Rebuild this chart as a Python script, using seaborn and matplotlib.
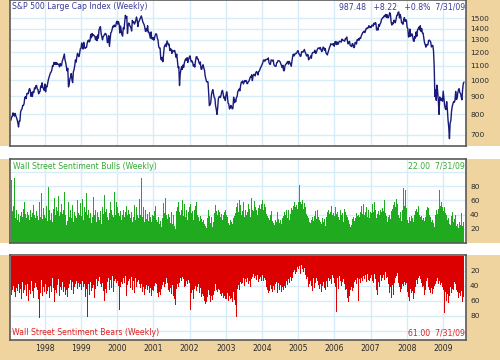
import numpy as np
import pandas as pd
import matplotlib
matplotlib.use("Agg")
import matplotlib.pyplot as plt
import seaborn as sns
from matplotlib.patches import Rectangle
from matplotlib.ticker import FixedLocator, FixedFormatter, NullLocator

# ---------------- data (weekly, Fridays, 1997-01-24 .. 2009-07-31) ----------------
spx_1997 = [770, 786, 789, 808, 801, 791, 805, 793, 784, 773, 757, 737, 766, 766, 812, 824, 829, 848, 848,
            858, 893, 898, 887, 916, 918, 915, 938, 947, 933, 900, 923, 899, 929, 923, 950, 945, 965, 966,
            944, 941, 915, 927, 928, 963, 955, 983, 954, 946, 936]
spx_1998 = [975, 927, 961, 957, 980, 1003, 1020, 1035, 1049, 1055, 1069, 1100, 1095, 1122, 1110, 1123, 1108,
            1121, 1109, 1108, 1110, 1091, 1114, 1098, 1100, 1133, 1146, 1165, 1186, 1140, 1121, 1089, 1063,
            1081, 957, 973, 1009, 1020, 1044, 1002, 984, 1056, 1070, 1099, 1141, 1125, 1163, 1192, 1176, 1166,
            1189, 1226]
spx_1999 = [1229, 1275, 1243, 1225, 1280, 1239, 1230, 1239, 1238, 1275, 1294, 1299, 1283, 1293, 1348, 1319,
            1356, 1335, 1345, 1337, 1330, 1302, 1327, 1294, 1343, 1315, 1391, 1403, 1418, 1357, 1329, 1301,
            1327, 1336, 1348, 1357, 1351, 1336, 1277, 1282, 1336, 1247, 1301, 1362, 1370, 1397, 1422, 1416,
            1433, 1417, 1421, 1458, 1469]
spx_2000 = [1441, 1465, 1441, 1360, 1424, 1387, 1346, 1333, 1409, 1395, 1464, 1527, 1499, 1516, 1357, 1434,
            1452, 1433, 1421, 1407, 1378, 1477, 1456, 1464, 1441, 1455, 1478, 1510, 1480, 1419, 1462, 1471,
            1491, 1507, 1521, 1494, 1466, 1449, 1437, 1408, 1374, 1396, 1379, 1427, 1365, 1368, 1341, 1315,
            1370, 1313, 1306, 1320]
spx_2001 = [1298, 1318, 1342, 1354, 1349, 1314, 1301, 1245, 1234, 1233, 1150, 1140, 1160, 1128, 1183, 1243,
            1254, 1266, 1245, 1292, 1277, 1260, 1264, 1214, 1226, 1224, 1191, 1215, 1210, 1205, 1214, 1191,
            1161, 1185, 1134, 1085, 1092, 966, 1041, 1071, 1092, 1073, 1104, 1087, 1120, 1139, 1150, 1139,
            1158, 1123, 1144, 1161]
spx_2002 = [1172, 1146, 1127, 1133, 1122, 1096, 1104, 1089, 1131, 1164, 1166, 1148, 1147, 1122, 1111, 1126,
            1076, 1073, 1096, 1106, 1083, 1067, 1027, 1007, 990, 990, 989, 921, 847, 852, 864, 908, 928, 940,
            917, 893, 889, 845, 827, 800, 835, 885, 897, 900, 894, 909, 930, 936, 912, 889, 895, 876]
spx_2003 = [908, 927, 901, 861, 856, 829, 834, 848, 841, 829, 833, 895, 863, 878, 868, 893, 898, 930, 933,
            944, 933, 964, 987, 988, 995, 976, 985, 998, 993, 998, 980, 977, 990, 993, 1008, 1021, 1018, 1036,
            997, 1029, 1038, 1039, 1028, 1051, 1058, 1050, 1035, 1058, 1061, 1074, 1088, 1095]
spx_2004 = [1108, 1121, 1140, 1141, 1131, 1142, 1146, 1144, 1145, 1156, 1120, 1110, 1109, 1141, 1139, 1134,
            1141, 1107, 1098, 1096, 1094, 1121, 1123, 1136, 1135, 1134, 1126, 1112, 1101, 1086, 1102, 1064,
            1064, 1099, 1108, 1114, 1123, 1129, 1110, 1131, 1122, 1109, 1095, 1130, 1167, 1185, 1171, 1182,
            1191, 1189, 1195, 1210, 1212]
spx_2005 = [1186, 1184, 1168, 1171, 1203, 1205, 1201, 1211, 1222, 1200, 1190, 1172, 1173, 1182, 1142, 1152,
            1157, 1172, 1154, 1189, 1198, 1197, 1201, 1216, 1191, 1194, 1212, 1227, 1234, 1234, 1226, 1237,
            1219, 1205, 1218, 1241, 1237, 1215, 1229, 1196, 1187, 1179, 1198, 1220, 1235, 1248, 1268, 1265,
            1259, 1267, 1269, 1248]
spx_2006 = [1285, 1287, 1261, 1284, 1264, 1267, 1287, 1289, 1287, 1281, 1307, 1302, 1295, 1295, 1289, 1311,
            1311, 1325, 1291, 1267, 1281, 1288, 1253, 1252, 1245, 1270, 1266, 1236, 1240, 1278, 1280, 1266,
            1302, 1296, 1311, 1299, 1319, 1314, 1336, 1349, 1365, 1368, 1377, 1364, 1380, 1401, 1400, 1409,
            1407, 1427, 1410, 1418]
spx_2007 = [1409, 1430, 1431, 1422, 1449, 1438, 1456, 1451, 1387, 1402, 1386, 1437, 1421, 1444, 1453, 1484,
            1494, 1505, 1506, 1522, 1516, 1536, 1507, 1533, 1503, 1503, 1530, 1553, 1534, 1459, 1433, 1453,
            1445, 1479, 1474, 1454, 1484, 1525, 1527, 1557, 1561, 1501, 1535, 1509, 1453, 1458, 1440, 1481,
            1504, 1468, 1484, 1478]
spx_2008 = [1411, 1401, 1325, 1330, 1395, 1331, 1349, 1353, 1331, 1294, 1288, 1330, 1316, 1370, 1332, 1390,
            1398, 1414, 1388, 1426, 1375, 1400, 1361, 1360, 1318, 1278, 1262, 1240, 1261, 1257, 1260, 1296,
            1298, 1292, 1283, 1242, 1252, 1255, 1213, 1099, 899, 940, 877, 968, 931, 873, 800, 896, 877, 879,
            888, 872]
spx_2009 = [931, 890, 850, 832, 826, 869, 826, 770, 735, 683, 756, 768, 816, 843, 857, 870, 866, 877, 929,
            882, 887, 919, 940, 946, 921, 918, 896, 880, 941, 979, 987.48]

bulls_1997 = [62, 88, 45, 38, 52, 91, 40, 35, 47, 84, 33, 41, 29, 55, 38, 44, 62, 36, 48, 30, 57, 41, 35, 73,
              44, 39, 50, 33, 46, 68, 37, 42, 29, 54, 40, 35, 61, 45, 38, 47, 32, 58, 43, 36, 70, 41, 34, 49, 39]
bulls_1998 = [40, 35, 52, 44, 31, 78, 38, 46, 33, 57, 42, 29, 48, 36, 63, 40, 34, 51, 45, 30, 66, 38, 43, 27,
              55, 41, 36, 47, 72, 33, 39, 25, 44, 31, 58, 37, 22, 46, 35, 41, 53, 30, 67, 44, 38, 49, 35, 60,
              42, 47, 39, 56]
bulls_1999 = [45, 38, 62, 41, 33, 50, 36, 44, 70, 39, 31, 47, 35, 56, 42, 28, 49, 37, 65, 40, 34, 46, 30, 53,
              43, 36, 60, 32, 45, 38, 27, 51, 41, 35, 68, 44, 30, 48, 37, 55, 33, 42, 29, 58, 46, 39, 52, 36,
              71, 43, 40, 57, 48]
bulls_2000 = [50, 42, 61, 38, 45, 33, 56, 40, 47, 70, 36, 44, 31, 52, 39, 46, 28, 41, 35, 57, 43, 30, 48, 37,
              54, 42, 33, 50, 39, 45, 35, 62, 48, 40, 91, 44, 36, 51, 38, 29, 46, 34, 58, 41, 31, 25, 43, 37,
              52, 30, 40, 35]
bulls_2001 = [38, 45, 52, 41, 33, 29, 44, 36, 27, 40, 31, 22, 35, 48, 56, 42, 50, 63, 39, 45, 34, 41, 30, 37,
              28, 43, 35, 26, 39, 32, 24, 20, 36, 45, 51, 47, 58, 44, 40, 53, 46, 61, 49, 38, 55, 42, 36, 47,
              40, 33, 44, 51]
bulls_2002 = [48, 55, 42, 37, 45, 33, 40, 47, 52, 58, 44, 39, 36, 42, 31, 38, 45, 34, 29, 40, 33, 27, 24, 30,
              21, 35, 41, 46, 38, 32, 28, 36, 25, 22, 30, 42, 48, 54, 45, 50, 39, 46, 57, 43, 37, 35, 41, 33,
              40, 36, 44, 47]
bulls_2003 = [43, 39, 36, 31, 28, 25, 33, 22, 30, 27, 41, 35, 38, 45, 42, 51, 48, 56, 44, 60, 47, 53, 40, 49,
              45, 58, 42, 37, 46, 52, 39, 44, 55, 41, 48, 36, 50, 63, 47, 54, 45, 59, 43, 51, 46, 40, 57, 49,
              53, 66, 48, 55]
bulls_2004 = [52, 60, 47, 55, 44, 50, 41, 46, 38, 35, 42, 33, 40, 37, 45, 31, 28, 36, 25, 33, 39, 30, 43, 37,
              34, 28, 41, 32, 26, 35, 30, 38, 44, 36, 40, 47, 42, 35, 46, 39, 33, 41, 49, 55, 47, 52, 45, 58,
              50, 43, 54, 48, 57]
bulls_2005 = [62, 81, 58, 66, 55, 60, 52, 48, 56, 45, 50, 41, 38, 44, 35, 30, 37, 28, 33, 40, 36, 31, 42, 38,
              45, 34, 39, 47, 36, 41, 33, 29, 38, 26, 35, 30, 27, 34, 24, 31, 37, 43, 39, 46, 41, 49, 44, 52,
              40, 47, 42, 38]
bulls_2006 = [45, 50, 41, 38, 44, 36, 40, 33, 47, 39, 35, 42, 30, 37, 48, 44, 51, 40, 36, 29, 33, 26, 22, 30,
              25, 34, 28, 37, 31, 39, 35, 42, 38, 45, 40, 36, 48, 43, 52, 46, 41, 55, 47, 39, 44, 50, 42, 37,
              46, 40, 35, 43]
bulls_2007 = [48, 42, 55, 50, 44, 58, 46, 39, 35, 41, 37, 45, 40, 52, 47, 43, 56, 49, 45, 60, 51, 42, 38, 33,
              29, 36, 31, 40, 34, 45, 41, 48, 53, 46, 58, 50, 44, 62, 55, 47, 39, 35, 43, 37, 31, 46, 40, 77,
              52, 45, 75, 49]
bulls_2008 = [40, 33, 28, 36, 42, 31, 38, 27, 35, 30, 26, 39, 45, 41, 48, 44, 52, 47, 40, 36, 43, 38, 32, 29,
              35, 31, 37, 42, 46, 51, 44, 49, 39, 45, 36, 30, 25, 33, 28, 22, 35, 40, 47, 53, 41, 48, 44, 75,
              52, 46, 58, 50]
bulls_2009 = [45, 38, 51, 42, 36, 40, 33, 29, 35, 27, 31, 25, 38, 43, 36, 30, 34, 28, 40, 24, 32, 26, 21, 29,
              19, 25, 42, 18, 24, 30, 22]

bears_1997 = [70, 52, 45, 58, 40, 48, 36, 55, 43, 62, 47, 38, 50, 34, 44, 57, 41, 35, 49, 30, 46, 39, 53, 42,
              37, 60, 45, 45, 51, 40, 33, 47, 38, 56, 43, 36, 52, 41, 46, 35, 58, 83, 39, 50, 32, 45, 54, 41, 48]
bears_1998 = [44, 38, 51, 35, 47, 41, 33, 56, 40, 36, 48, 30, 43, 38, 62, 45, 34, 50, 39, 44, 31, 53, 42, 37,
              46, 35, 58, 48, 41, 66, 52, 45, 39, 55, 43, 37, 49, 32, 46, 40, 35, 51, 29, 42, 38, 47, 33, 44,
              36, 30, 41, 37]
bears_1999 = [39, 45, 34, 50, 42, 37, 48, 55, 44, 81, 46, 38, 52, 41, 35, 47, 30, 43, 39, 56, 36, 44, 31, 49,
              40, 34, 45, 28, 38, 53, 42, 36, 47, 33, 60, 44, 39, 50, 35, 41, 29, 46, 38, 32, 43, 27, 37, 48,
              34, 40, 31, 36, 42]
bears_2000 = [33, 40, 46, 72, 41, 35, 49, 38, 30, 44, 36, 27, 42, 53, 39, 34, 47, 31, 43, 37, 28, 45, 40, 33,
              50, 36, 29, 41, 35, 46, 32, 38, 25, 43, 37, 30, 48, 41, 35, 52, 44, 39, 57, 46, 40, 62, 49, 43,
              38, 54, 45, 41]
bears_2001 = [47, 40, 36, 43, 38, 50, 45, 55, 48, 60, 52, 44, 39, 46, 35, 41, 33, 38, 30, 42, 36, 45, 40, 48,
              43, 51, 46, 39, 53, 47, 58, 65, 50, 44, 38, 33, 41, 36, 30, 39, 34, 28, 37, 31, 42, 35, 40, 33,
              45, 38, 32, 36]
bears_2002 = [38, 72, 50, 55, 46, 58, 52, 44, 40, 47, 36, 42, 38, 45, 50, 43, 48, 55, 51, 58, 53, 60, 64, 57,
              62, 55, 49, 46, 52, 58, 61, 54, 66, 59, 52, 47, 43, 38, 45, 41, 48, 44, 39, 46, 51, 47, 54, 50,
              56, 48, 53, 58]
bears_2003 = [52, 57, 49, 55, 60, 53, 58, 64, 56, 61, 54, 48, 59, 52, 66, 81, 50, 44, 39, 46, 41, 35, 38, 32,
              36, 29, 33, 40, 31, 27, 35, 30, 38, 26, 33, 42, 65, 31, 28, 34, 24, 30, 36, 27, 32, 25, 29, 35,
              31, 38, 28, 33]
bears_2004 = [30, 26, 34, 29, 37, 32, 41, 36, 45, 50, 42, 47, 39, 53, 44, 48, 40, 52, 46, 38, 43, 35, 49, 41,
              36, 45, 33, 39, 48, 42, 54, 46, 40, 37, 43, 34, 47, 39, 31, 44, 36, 28, 33, 25, 30, 22, 27, 19,
              24, 17, 21, 15, 18]
bears_2005 = [20, 14, 24, 58, 12, 18, 10, 22, 16, 63, 25, 31, 28, 36, 42, 38, 45, 33, 40, 35, 47, 30, 38, 43,
              36, 29, 41, 34, 39, 27, 44, 37, 32, 48, 40, 35, 52, 43, 46, 38, 33, 41, 36, 29, 34, 27, 31, 38,
              25, 33, 29, 36]
bears_2006 = [34, 41, 75, 38, 30, 44, 36, 27, 33, 40, 29, 35, 31, 42, 37, 46, 52, 44, 56, 48, 62, 53, 45, 50,
              41, 47, 38, 43, 35, 40, 32, 37, 29, 34, 60, 31, 28, 36, 30, 25, 33, 27, 23, 31, 26, 35, 29, 24,
              32, 28, 34, 30]
bears_2007 = [30, 25, 33, 28, 36, 24, 31, 27, 45, 52, 40, 35, 42, 31, 26, 34, 22, 29, 25, 32, 27, 21, 30, 35,
              28, 38, 44, 50, 41, 56, 47, 39, 52, 43, 36, 30, 34, 27, 23, 31, 36, 42, 48, 38, 44, 37, 33, 40,
              35, 45, 39, 36]
bears_2008 = [42, 48, 55, 60, 51, 44, 49, 53, 47, 58, 62, 50, 41, 36, 32, 38, 29, 34, 27, 31, 25, 36, 42, 47,
              40, 52, 45, 38, 33, 29, 35, 41, 46, 55, 49, 43, 58, 51, 44, 40, 47, 38, 34, 42, 30, 37, 27, 33,
              39, 31, 36, 41]
bears_2009 = [45, 52, 76, 48, 55, 60, 51, 58, 63, 54, 47, 42, 50, 44, 39, 46, 35, 41, 37, 45, 52, 48, 56, 50,
              59, 53, 47, 57, 62, 55, 61]

spx = sum([spx_1997, spx_1998, spx_1999, spx_2000, spx_2001, spx_2002, spx_2003, spx_2004, spx_2005,
           spx_2006, spx_2007, spx_2008, spx_2009], [])
bulls = sum([bulls_1997, bulls_1998, bulls_1999, bulls_2000, bulls_2001, bulls_2002, bulls_2003, bulls_2004,
             bulls_2005, bulls_2006, bulls_2007, bulls_2008, bulls_2009], [])
bears = sum([bears_1997, bears_1998, bears_1999, bears_2000, bears_2001, bears_2002, bears_2003, bears_2004,
             bears_2005, bears_2006, bears_2007, bears_2008, bears_2009], [])

year_labels = ["1998", "1999", "2000", "2001", "2002", "2003", "2004", "2005", "2006", "2007", "2008", "2009"]
spx_ticks = [700, 800, 900, 1000, 1100, 1200, 1300, 1400, 1500]
sent_ticks = [20, 40, 60, 80]

spx_title = "S&P 500 Large Cap Index (Weekly)"
spx_info = "987.48   +8.22   +0.8%  7/31/09"
bulls_title = "Wall Street Sentiment Bulls (Weekly)"
bulls_info = "22.00  7/31/09"
bears_title = "Wall Street Sentiment Bears (Weekly)"
bears_info = "61.00  7/31/09"

end_date = "2009-07-31"

# ---------------- figure ----------------
sns.set_theme(style="white")
plt.rcParams["font.family"] = ["DejaVu Sans"]

TAN = "#F0D4A0"
GRID = "#D6ECF8"
EDGE = "#5A5A5A"
NAVY = "#1A1A7A"
GREEN = "#1FAA1F"
RED = "#DD0000"

W, H = 500, 360
fig = plt.figure(figsize=(W / 100, H / 100), dpi=100, facecolor=TAN)

def fy(px):
    return 1 - px / H

x0, x1 = 10 / W, 466 / W
ax1 = fig.add_axes([x0, fy(146), x1 - x0, fy(0) - fy(146)])
ax2 = fig.add_axes([x0, fy(243), x1 - x0, fy(159) - fy(243)])
ax3 = fig.add_axes([x0, fy(340), x1 - x0, fy(255) - fy(340)])

# white separators across whole width
for top, bot in [(146, 159), (243, 255)]:
    fig.patches.append(Rectangle((0, fy(bot)), 1, fy(top) - fy(bot), transform=fig.transFigure,
                                 facecolor="white", edgecolor="none", zorder=-1))

dates = pd.date_range(end=end_date, periods=len(spx), freq="W-FRI")
df = pd.DataFrame({"date": dates, "spx": spx,
                   "bulls": bulls[:len(dates)], "bears": bears[:len(dates)]})

xmin, xmax = pd.Timestamp("1997-01-15"), pd.Timestamp("2009-08-20")
year_ticks = [pd.Timestamp(f"{y}-01-01") for y in year_labels]

# S&P line
sns.lineplot(data=df, x="date", y="spx", ax=ax1, color=NAVY, lw=1.0)
ax1.set_yscale("log")
ax1.set_ylim(651, 1687)
ax1.yaxis.set_major_locator(FixedLocator(spx_ticks))
ax1.yaxis.set_major_formatter(FixedFormatter([str(t) for t in spx_ticks]))
ax1.yaxis.set_minor_locator(NullLocator())

# Bulls bars
ax2.bar(df["date"], df["bulls"], width=7, color=GREEN, linewidth=0)
ax2.set_ylim(0, 118)
ax2.yaxis.set_major_locator(FixedLocator(sent_ticks + [100]))
ax2.yaxis.set_major_formatter(FixedFormatter([str(t) for t in sent_ticks] + [""]))

# Bears bars (inverted)
ax3.bar(df["date"], df["bears"], width=7, color=RED, linewidth=0)
ax3.set_ylim(112, -1)
ax3.yaxis.set_major_locator(FixedLocator(sent_ticks + [100]))
ax3.yaxis.set_major_formatter(FixedFormatter([str(t) for t in sent_ticks] + [""]))

for ax in (ax1, ax2, ax3):
    ax.set_facecolor("white")
    ax.set_xlim(xmin, xmax)
    ax.set_xticks(year_ticks)
    ax.set_xlabel("")
    ax.set_ylabel("")
    ax.set_axisbelow(True)
    ax.grid(True, color=GRID, lw=1.0)
    ax.yaxis.tick_right()
    ax.tick_params(axis="y", which="both", length=0, pad=3, labelsize=5.4, labelcolor="#2A2A2A",
                   left=False, right=False, labelleft=False, labelright=True)
    ax.tick_params(axis="x", length=0, labelbottom=False)
    for s in ax.spines.values():
        s.set_color(EDGE)
        s.set_linewidth(1.2)

ax3.set_xticklabels(year_labels)
ax3.tick_params(axis="x", labelbottom=True, labelsize=5.6, labelcolor="#2A2A2A", pad=3)

fs = 5.6
ax1.text(0.004, 0.985, spx_title, transform=ax1.transAxes, ha="left", va="top", fontsize=fs, color="#3A3A9A")
ax1.text(0.998, 0.985, spx_info, transform=ax1.transAxes, ha="right", va="top", fontsize=fs, color="#3A3A9A")
ax2.text(0.006, 0.97, bulls_title, transform=ax2.transAxes, ha="left", va="top", fontsize=fs, color="#33AA33")
ax2.text(0.998, 0.97, bulls_info, transform=ax2.transAxes, ha="right", va="top", fontsize=fs, color="#33AA33")
ax3.text(0.004, 0.03, bears_title, transform=ax3.transAxes, ha="left", va="bottom", fontsize=fs, color="#E02020")
ax3.text(0.998, 0.03, bears_info, transform=ax3.transAxes, ha="right", va="bottom", fontsize=fs, color="#E02020")

fig.savefig("out.png", dpi=100, facecolor=TAN)
